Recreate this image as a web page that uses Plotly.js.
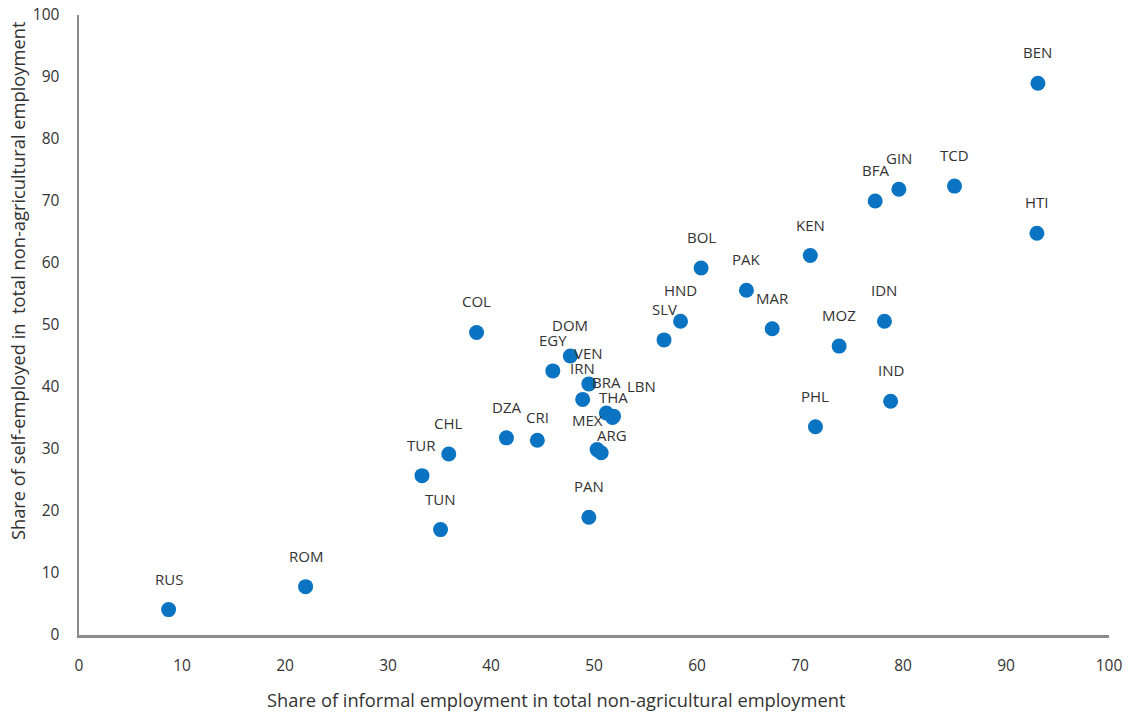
<!DOCTYPE html>
<html>
<head>
<meta charset="utf-8">
<script src="https://cdn.plot.ly/plotly-3.0.1.min.js"></script>
<style>html,body{margin:0;padding:0;background:#fff;}#chart{width:1137px;height:715px;}</style>
</head>
<body>
<div id="chart"></div>
<script>
// Data
var countries = ["RUS","ROM","TUN","TUR","CHL","COL","DZA","CRI","EGY","DOM","VEN","IRN","BRA","THA","LBN","MEX","ARG","PAN","SLV","HND","BOL","PAK","MAR","KEN","PHL","MOZ","IDN","IND","BFA","GIN","TCD","HTI","BEN"];
var informalShare = [8.7,22.0,35.1,33.3,35.9,38.6,41.5,44.5,46.0,47.7,49.5,48.9,51.2,51.9,51.8,50.3,50.7,49.5,56.8,58.4,60.4,64.8,67.3,71.0,71.5,73.8,78.2,78.8,77.3,79.6,85.0,93.0,93.1];
var selfEmployedShare = [4.1,7.8,17.0,25.7,29.2,48.8,31.8,31.4,42.6,45.0,40.5,38.0,35.8,35.3,35.1,29.9,29.4,19.0,47.6,50.6,59.2,55.6,49.4,61.2,33.6,46.6,50.6,37.7,70.0,71.9,72.4,64.8,89.0];
var xTickValues = [0,10,20,30,40,50,60,70,80,90,100];
var yTickValues = [0,10,20,30,40,50,60,70,80,90,100];
var xTitle = "Share of informal employment in total non-agricultural employment";
var yTitle = "Share of self-employed in  total non-agricultural employment";

// Label placement (pixel shifts), default is above the point
var labelShift = {THA:[0,19], LBN:[29,31], MEX:[-10,30], ARG:[11,18], CRI:[0,23]};

var textColor = "#333333";
var fontFam = "'Open Sans', 'Liberation Sans', sans-serif";

var annotations = countries.map(function(c,i){
  var s = labelShift[c] || [0,31];
  return {x: informalShare[i], y: selfEmployedShare[i], xref:'x', yref:'y', text:c, showarrow:false,
          xshift:s[0], yshift:s[1], font:{family:fontFam, size:15, color:textColor}};
});
annotations.push({xref:'paper', yref:'paper', x:(556-79)/1030, y:-(700-635.5)/621, yanchor:'middle', xanchor:'center',
  text:xTitle, showarrow:false, font:{family:fontFam, size:18.3, color:textColor}});
annotations.push({xref:'paper', yref:'paper', x:-(79-17)/1030, xanchor:'center', y:(635.5-281)/621, yanchor:'middle',
  text:yTitle, textangle:-90, showarrow:false, font:{family:fontFam, size:18.3, color:textColor}});

var trace = {
  type:'scatter', mode:'markers', x: informalShare, y: selfEmployedShare, text: countries,
  marker:{color:'#0A74C2', size:15, line:{width:0}}, hoverinfo:'text+x+y', cliponaxis:false
};

var layout = {
  width:1137, height:715,
  margin:{l:79, r:28, t:14.5, b:79.5},
  paper_bgcolor:'#fff', plot_bgcolor:'#fff',
  showlegend:false,
  xaxis:{range:[0,100], tickvals:xTickValues, ticktext:xTickValues.map(String), showgrid:false, zeroline:false,
         showline:true, linecolor:'#8c8c8c', linewidth:2.5, ticks:'', ticklabelstandoff:15,
         tickfont:{family:fontFam, size:15.5, color:textColor}, fixedrange:true},
  yaxis:{range:[0,100], tickvals:yTickValues, ticktext:yTickValues.map(String), showgrid:false, zeroline:false,
         showline:true, linecolor:'#8c8c8c', linewidth:2.5, ticks:'', ticklabelstandoff:14,
         tickfont:{family:fontFam, size:15.5, color:textColor}, fixedrange:true},
  annotations: annotations
};

Plotly.newPlot('chart', [trace], layout, {displayModeBar:false, staticPlot:true});
</script>
</body>
</html>
